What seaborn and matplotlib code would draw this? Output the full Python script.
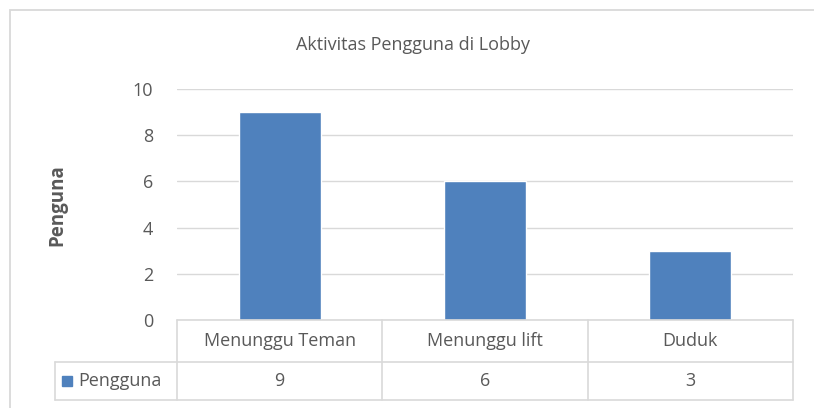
import matplotlib
matplotlib.use("Agg")
import matplotlib.pyplot as plt
import seaborn as sns
import pandas as pd
from matplotlib.lines import Line2D
from matplotlib.patches import Rectangle

categories = ["Menunggu Teman", "Menunggu lift", "Duduk"]
values = [9, 6, 3]
series_name = "Pengguna"
title = "Aktivitas Pengguna di Lobby"
ylabel = "Penguna"
yticks = [0, 2, 4, 6, 8, 10]

W, H = 814, 408
BAR = "#4f81bd"
GRID = "#d9d9d9"
TXT = "#595959"
FS = 13

sns.set_theme(style="white")
plt.rcParams["font.family"] = ["Open Sans", "DejaVu Sans"]

fig = plt.figure(figsize=(W / 100, H / 100), dpi=100)

def fx(x):
    return x / W

def fy(y):
    return 1 - y / H

# plot area in pixels
L, R, T, B = 177, 793, 89, 320
ax = fig.add_axes([fx(L), fy(B), fx(R) - fx(L), fy(T) - fy(B)])

df = pd.DataFrame({"cat": categories, "val": values})
sns.barplot(data=df, x="cat", y="val", color=BAR, saturation=1, width=0.4, ax=ax)
ax.set_xlim(-0.5, len(categories) - 0.5)
ax.set_ylim(0, 10)
ax.set_yticks(yticks)
ax.set_yticklabels([str(v) for v in yticks], fontsize=FS, color=TXT)
ax.tick_params(axis="y", length=0, pad=17)
ax.set_xticks([])
ax.set_xlabel("")
ax.set_ylabel("")
for s in ax.spines.values():
    s.set_visible(False)
ax.grid(False)
for v in yticks:
    ax.axhline(v, color=GRID, lw=1, zorder=0)
ax.set_axisbelow(True)

# outer frame
fig.add_artist(Rectangle((fx(9.5), fy(420)), fx(820) - fx(9.5), fy(9.5) - fy(420),
                         transform=fig.transFigure, fill=False, ec="#d9d9d9", lw=1.3))

# title and y label
fig.text(fx(413), fy(45), title, ha="center", va="center", fontsize=FS, color=TXT)
fig.text(fx(57), fy(205), ylabel, ha="center", va="center", rotation=90,
         fontsize=13.5, fontweight="bold", color=TXT)

# data table
def hline(y, x0, x1):
    fig.add_artist(Line2D([fx(x0), fx(x1)], [fy(y), fy(y)], color=GRID, lw=1.2,
                          transform=fig.transFigure))

def vline(x, y0, y1):
    fig.add_artist(Line2D([fx(x), fx(x)], [fy(y0), fy(y1)], color=GRID, lw=1.2,
                          transform=fig.transFigure))

r0, r1, r2 = 320, 362, 400
LL = 55
ncat = len(categories)
cw = (R - L) / ncat
cols = [L + i * cw for i in range(ncat + 1)]
hline(r0, L, R)
hline(r1, LL, R)
hline(r2, LL, R)
for x in cols:
    vline(x, r0, r2)
vline(LL, r1, r2)

for i, c in enumerate(categories):
    cx = (cols[i] + cols[i + 1]) / 2
    fig.text(fx(cx), fy((r0 + r1) / 2), c, ha="center", va="center", fontsize=FS, color=TXT)
    fig.text(fx(cx), fy((r1 + r2) / 2), str(values[i]), ha="center", va="center",
             fontsize=FS, color=TXT)

fig.add_artist(Rectangle((fx(62), fy(386)), fx(72) - fx(62), fy(376) - fy(386),
                         transform=fig.transFigure, color=BAR))
fig.text(fx(78), fy((r1 + r2) / 2), series_name, ha="left", va="center",
         fontsize=FS, color=TXT)

fig.savefig("out.png", dpi=100)
